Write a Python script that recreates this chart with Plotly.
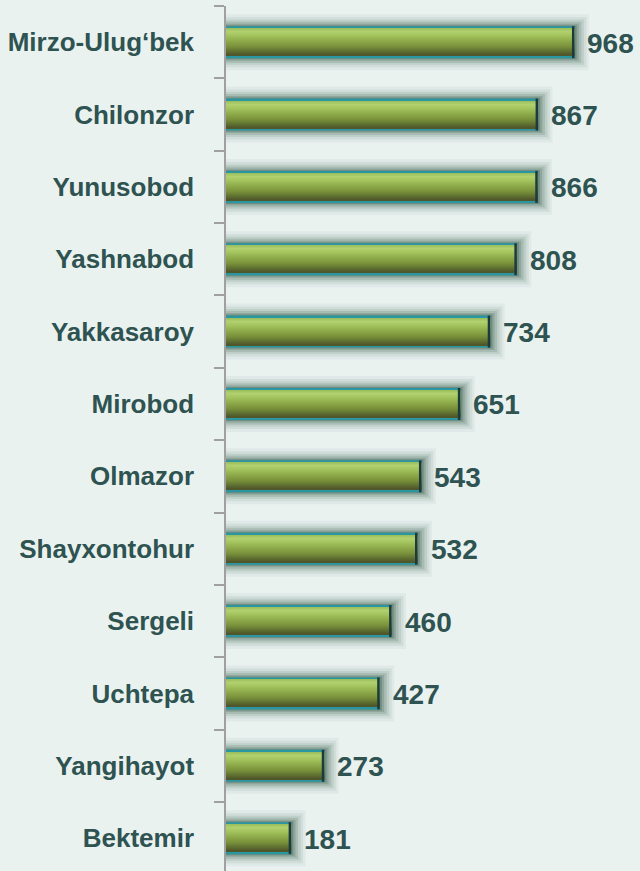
import plotly.graph_objects as go

categories = ["Mirzo-Ulug‘bek", "Chilonzor", "Yunusobod", "Yashnabod", "Yakkasaroy",
              "Mirobod", "Olmazor", "Shayxontohur", "Sergeli", "Uchtepa",
              "Yangihayot", "Bektemir"]
values = [968, 867, 866, 808, 734, 651, 543, 532, 460, 427, 273, 181]

BG = "#EAF2F0"
TXT = "#2E5350"
SP = 72.36  # px per category step (for converting pixel-designed stripes)

fig = go.Figure()

# soft glow around bars: (half-thickness px, extra length units, color)
glows = [(28, 40, "rgba(90,130,110,0.07)"),
         (25, 33, "rgba(80,120,100,0.10)"),
         (22.5, 26, "rgba(70,110,90,0.13)"),
         (20.5, 19, "rgba(60,100,80,0.17)"),
         (18.5, 12, "rgba(50,90,70,0.22)"),
         (17, 6, "rgba(40,80,60,0.28)")]
for half, extra, col in glows:
    fig.add_trace(go.Bar(
        y=categories, x=[v + extra for v in values], orientation="h",
        width=2 * half / SP, marker=dict(color=col, line=dict(width=0)),
        hoverinfo="skip", showlegend=False))

# vertical gradient of the bar body (colour stops in px from bar centre)
stops = [(-13.5, (150, 188, 88)), (-10, (178, 208, 112)), (-6, (164, 196, 94)),
         (0, (140, 168, 72)), (5, (122, 146, 60)), (9, (100, 118, 50)),
         (13.5, (78, 84, 42))]


def colour_at(p):
    for (p0, c0), (p1, c1) in zip(stops, stops[1:]):
        if p0 <= p <= p1:
            t = (p - p0) / (p1 - p0)
            return "rgb(%d,%d,%d)" % tuple(round(a + (b - a) * t) for a, b in zip(c0, c1))
    return "rgb(%d,%d,%d)" % stops[-1][1]


stripes = [(-16, 16, "#2A96A2")]
n = 27
for i in range(n):
    top = -13.5 + 27 * i / n
    bot = -13.5 + 27 * (i + 1) / n + 0.3
    stripes.append((top, min(bot, 13.5), colour_at((top + bot) / 2)))

for top, bot, col in stripes:
    fig.add_trace(go.Bar(
        y=categories, x=values, orientation="h",
        width=(bot - top) / SP, offset=top / SP,
        marker=dict(color=col, line=dict(width=0)),
        hoverinfo="skip", showlegend=False))

# dark right end cap
fig.add_trace(go.Bar(
    y=categories, x=[7] * len(values), base=[v - 7 for v in values],
    orientation="h", width=32 / SP, offset=-16 / SP,
    marker=dict(color="#1D3B3D", line=dict(width=0)),
    hoverinfo="skip", showlegend=False))

for c, v in zip(categories, values):
    fig.add_annotation(x=v, y=c, text=str(v), showarrow=False,
                       xanchor="left", xshift=11, yshift=-1,
                       font=dict(family="Liberation Sans, Arial", size=28,
                                 color=TXT, weight="bold"))

fig.update_layout(
    width=640, height=871, barmode="overlay",
    paper_bgcolor=BG, plot_bgcolor=BG,
    margin=dict(l=226, r=0, t=6, b=0),
    showlegend=False,
    xaxis=dict(range=[0, 1150], visible=False, fixedrange=True),
    yaxis=dict(type="category", categoryorder="array", categoryarray=categories,
               range=[-0.5 + 865 / SP, -0.5], showline=True, linecolor="#A0A0A0",
               linewidth=1.5, ticks="outside", ticklen=10, tickcolor="#A0A0A0",
               tickwidth=1.5, tickson="boundaries", showgrid=False,
               ticklabelstandoff=25, zeroline=False, fixedrange=True,
               tickfont=dict(family="Liberation Sans, Arial", size=26,
                             color=TXT, weight="bold")),
)

fig.write_html("out.html", config={"displayModeBar": False},
               post_script="document.body.style.margin='0';document.body.style.background='%s';" % BG)
